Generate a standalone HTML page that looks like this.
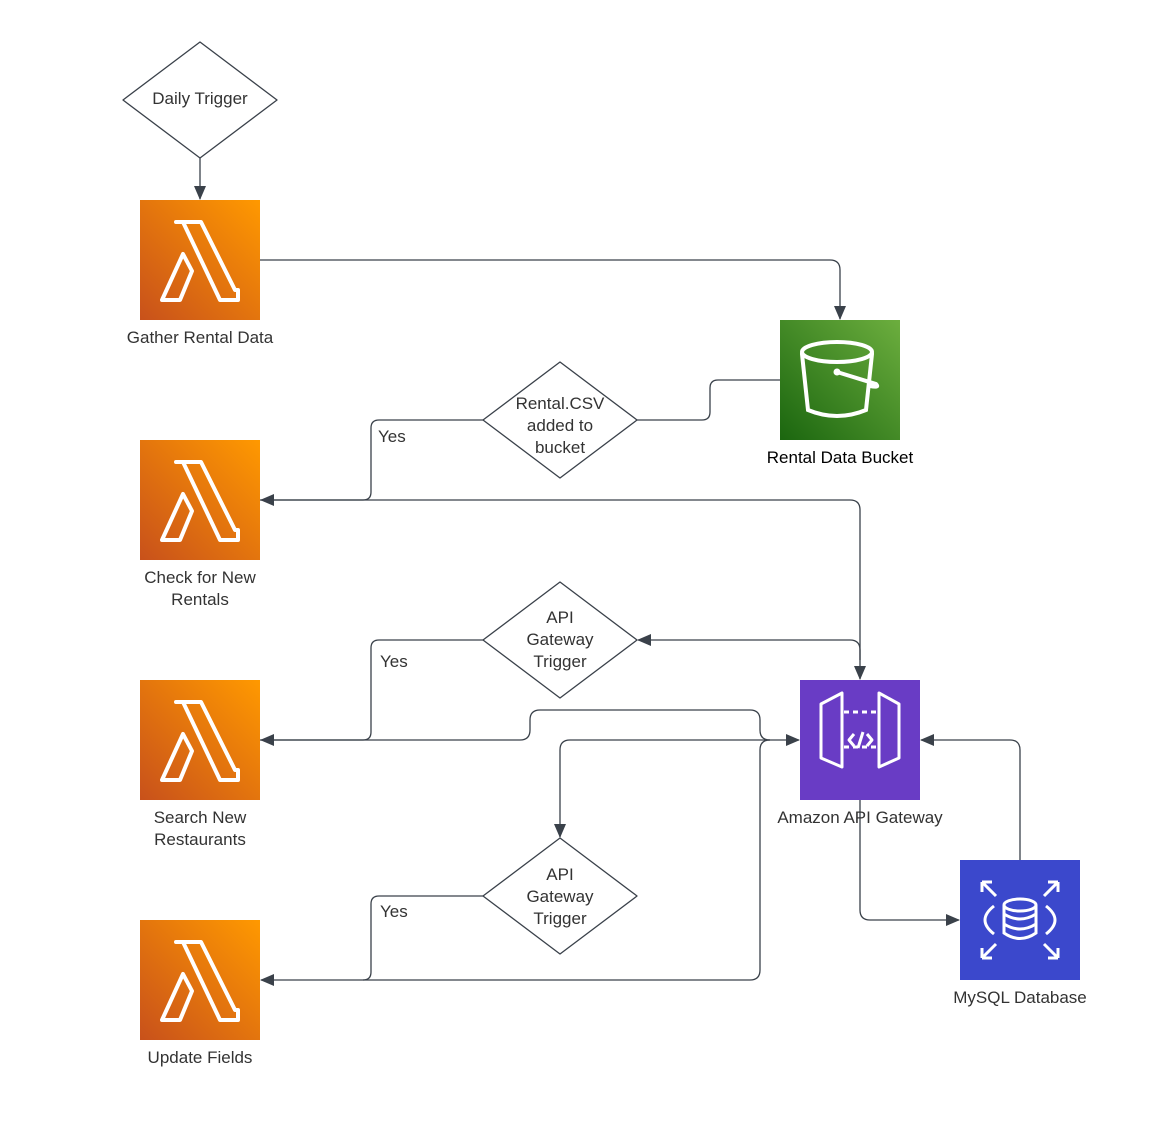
<!DOCTYPE html>
<html><head><meta charset="utf-8"><style>
html,body{margin:0;padding:0;background:#fff}
svg{display:block}
text{font-family:"Liberation Sans",sans-serif;font-size:17px;fill:#333}
</style></head><body>
<svg width="1176" height="1121" viewBox="0 0 1176 1121" xmlns="http://www.w3.org/2000/svg">
<defs>
<marker id="a" markerWidth="14" markerHeight="12" refX="13" refY="6" orient="auto" markerUnits="userSpaceOnUse"><path d="M0,0 L14,6 L0,12 z" fill="#3a414a"/></marker>
<linearGradient id="or" x1="0" y1="1" x2="1" y2="0"><stop offset="0" stop-color="#c8511b"/><stop offset="1" stop-color="#ff9900"/></linearGradient>
<linearGradient id="gr" x1="0" y1="1" x2="1" y2="0"><stop offset="0" stop-color="#1b660f"/><stop offset="1" stop-color="#6cae3e"/></linearGradient>
<g id="lam"><rect width="120" height="120" fill="url(#or)"/>
<path d="M36,22 h25 l34,68 h3 v10 h-18 l-37,-78 h-7 z M43,54 l9,17 l-12,29 h-18 z" fill="none" stroke="#fff" stroke-width="4" stroke-linejoin="round"/></g>
</defs>
<g fill="none" stroke="#3a414a" stroke-width="1.3">
<path d="M200,42 L277,100 L200,158 L123,100 Z" fill="#fff" stroke-linejoin="round"/>
<path d="M200,158 V199" marker-end="url(#a)"/>
<path d="M260,260 H830 Q840,260 840,270 V319" marker-end="url(#a)"/>
<path d="M780,380 H718 Q710,380 710,388 V412 Q710,420 702,420 H637"/>
<path d="M483,420 H379 Q371,420 371,428 V492 Q371,500 363,500 H261" marker-end="url(#a)"/>
<path d="M260,500 H850 Q860,500 860,510 V679" marker-end="url(#a)"/>
<path d="M860,660 V650 Q860,640 850,640 H638" marker-end="url(#a)"/>
<path d="M483,640 H379 Q371,640 371,648 V732 Q371,740 363,740 H261" marker-end="url(#a)"/>
<path d="M260,740 H520 Q530,740 530,730 V720 Q530,710 540,710 H750 Q760,710 760,720 V730 Q760,740 770,740 H799" marker-end="url(#a)"/>
<path d="M770,740 H570 Q560,740 560,750 V837" marker-end="url(#a)"/>
<path d="M770,740 Q760,740 760,750 V970 Q760,980 750,980 H261" marker-end="url(#a)"/>
<path d="M483,896 H379 Q371,896 371,904 V972 Q371,980 363,980"/>
<path d="M860,800 V910 Q860,920 870,920 H959" marker-end="url(#a)"/>
<path d="M1020,860 V750 Q1020,740 1010,740 H921" marker-end="url(#a)"/>
<path d="M560,362 L637,420 L560,478 L483,420 Z" fill="#fff" stroke-linejoin="round"/>
<path d="M560,582 L637,640 L560,698 L483,640 Z" fill="#fff" stroke-linejoin="round"/>
<path d="M560,838 L637,896 L560,954 L483,896 Z" fill="#fff" stroke-linejoin="round"/>
</g>
<use href="#lam" x="140" y="200"/>
<use href="#lam" x="140" y="440"/>
<use href="#lam" x="140" y="680"/>
<use href="#lam" x="140" y="920"/>
<rect x="780" y="320" width="120" height="120" fill="url(#gr)"/>
<g fill="none" stroke="#fff" stroke-width="4" stroke-linecap="round">
<ellipse cx="837" cy="352" rx="35" ry="10"/>
<path d="M802,354 L808,410 Q837,422 866,410 L872,354"/>
<path d="M837,372 L876,384 Q880,388 870,386"/>
</g>
<circle cx="837" cy="372" r="3.5" fill="#fff"/>
<rect x="800" y="680" width="120" height="120" fill="#693cc5"/>
<g fill="none" stroke="#fff" stroke-width="3" stroke-linejoin="round">
<path d="M821,704 L842,693 V767 L821,758 Z"/><path d="M879,693 L899,704 V758 L879,767 Z"/>
<path d="M844,712 H877 M844,747 H877" stroke-dasharray="5,4"/>
<path d="M854,734 L849,740 L854,746 M867,734 L872,740 L867,746 M863,732 L858,748"/>
</g>
<rect x="960" y="860" width="120" height="120" fill="#3b48cc"/>
<g fill="none" stroke="#fff" stroke-width="3">
<path d="M982,882 L996,896 M982,882 V892 M982,882 H992"/>
<path d="M1058,882 L1044,896 M1058,882 V892 M1058,882 H1048"/>
<path d="M982,958 L996,944 M982,958 V948 M982,958 H992"/>
<path d="M1058,958 L1044,944 M1058,958 V948 M1058,958 H1048"/>
<path d="M994,906 Q976,920 994,934 M1046,906 Q1064,920 1046,934"/>
<ellipse cx="1020" cy="905" rx="16" ry="6"/>
<path d="M1004,905 V933 Q1020,944 1036,933 V905 M1004,914 Q1020,924 1036,914 M1004,924 Q1020,934 1036,924"/>
</g>
<g text-anchor="middle">
<text x="200" y="104">Daily Trigger</text>
<text x="200" y="343">Gather Rental Data</text>
<text x="840" y="463" style="fill:#000">Rental Data Bucket</text>
<text x="560" y="409">Rental.CSV</text><text x="560" y="431">added to</text><text x="560" y="453">bucket</text>
<text x="200" y="583">Check for New</text><text x="200" y="605">Rentals</text>
<text x="560" y="623">API</text><text x="560" y="645">Gateway</text><text x="560" y="667">Trigger</text>
<text x="200" y="823">Search New</text><text x="200" y="845">Restaurants</text>
<text x="860" y="823">Amazon API Gateway</text>
<text x="560" y="880">API</text><text x="560" y="902">Gateway</text><text x="560" y="924">Trigger</text>
<text x="1020" y="1003">MySQL Database</text>
<text x="200" y="1063">Update Fields</text>
</g>
<text x="378" y="442">Yes</text>
<text x="380" y="667">Yes</text>
<text x="380" y="917">Yes</text>
</svg>
</body></html>
